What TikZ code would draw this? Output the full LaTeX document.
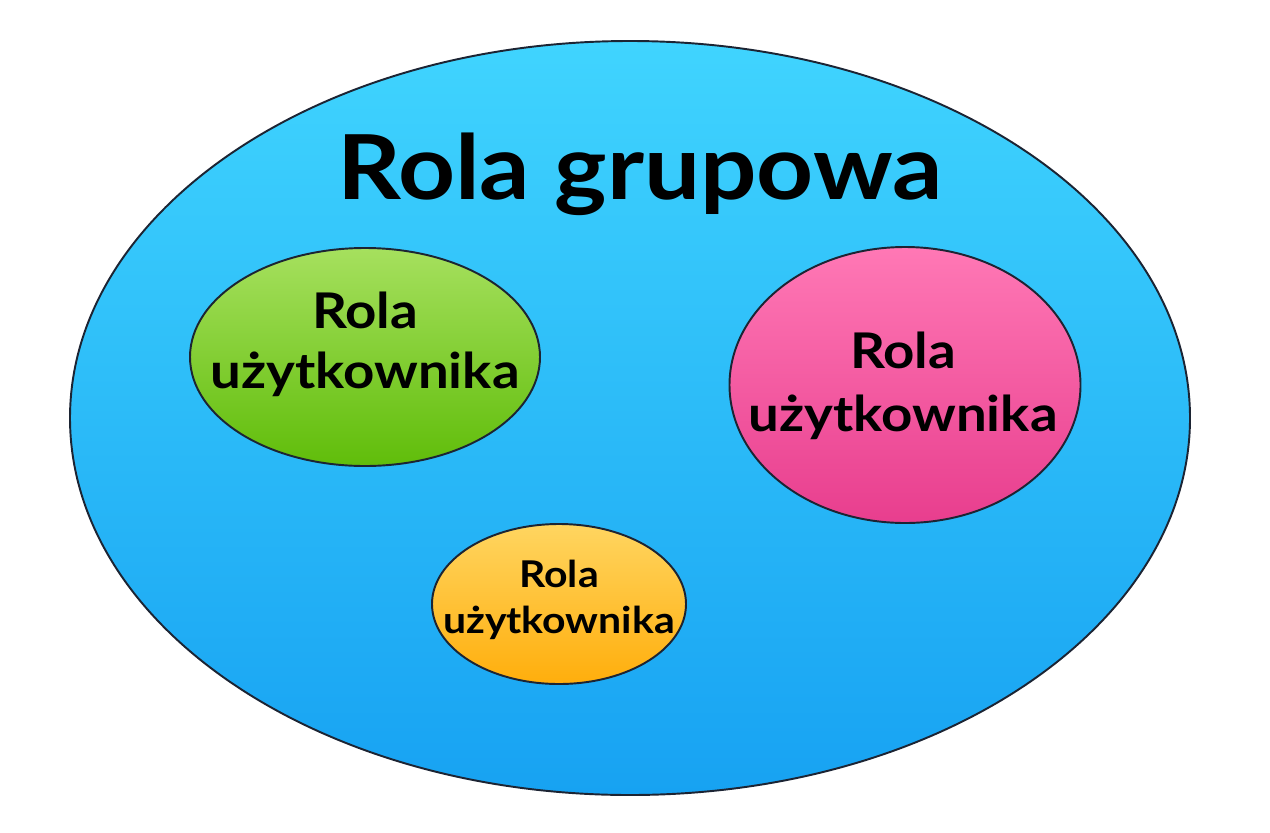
\documentclass[tikz,border=0pt]{standalone}
\usepackage{fontspec}
\setmainfont{Lato}[FakeStretch=1.11]
\usetikzlibrary{shapes.geometric}
\definecolor{niebieskiGora}{HTML}{40D4FE}
\definecolor{niebieskiDol}{HTML}{17A2F2}
\definecolor{zielonyGora}{HTML}{A6E05E}
\definecolor{zielonyDol}{HTML}{60BD0A}
\definecolor{rozowyGora}{HTML}{FF78B5}
\definecolor{rozowyDol}{HTML}{E83E8E}
\definecolor{pomaranczGora}{HTML}{FFD560}
\definecolor{pomaranczDol}{HTML}{FFAE0C}
\definecolor{obrys}{HTML}{1C2433}
\tikzset{
    rola/.style={ellipse,draw=obrys,line width=1.1pt,inner sep=0pt},
    napis/.style={align=center,font=\bfseries,text=black,inner sep=0pt}
}
\begin{document}
\begin{tikzpicture}[x=0.02cm,y=-0.02cm]
        \useasboundingbox[fill=white] (0,0) rectangle (1270,832);
        \begin{scope}
            \node (grupa) [rola,top color=niebieskiGora,bottom color=niebieskiDol,
                minimum width=1120*0.02cm,minimum height=754*0.02cm] at (630,418) {};
            \node (zielona) [rola,top color=zielonyGora,bottom color=zielonyDol,
                minimum width=350*0.02cm,minimum height=218*0.02cm] at (365,357) {};
            \node (rozowa) [rola,top color=rozowyGora,bottom color=rozowyDol,
                minimum width=351*0.02cm,minimum height=276*0.02cm] at (905,385) {};
            \node (pomarancz) [rola,top color=pomaranczGora,bottom color=pomaranczDol,
                minimum width=254*0.02cm,minimum height=160*0.02cm] at (559,604) {};
        \end{scope}
        \begin{scope}[every node/.style={napis}]
            \node (tytul) [font=\fontsize{51}{60}\selectfont\bfseries] at (640,174) {Rola grupowa};
            \node (tekstZielony) [font=\fontsize{28}{34}\selectfont\bfseries] at (365,344) {Rola\\użytkownika};
            \node (tekstRozowy) [font=\fontsize{28}{36}\selectfont\bfseries] at (903,386) {Rola\\użytkownika};
            \node (tekstPomarancz) [font=\fontsize{21}{26}\selectfont\bfseries] at (559,600) {Rola\\użytkownika};
        \end{scope}
    \end{tikzpicture}
\end{document}
